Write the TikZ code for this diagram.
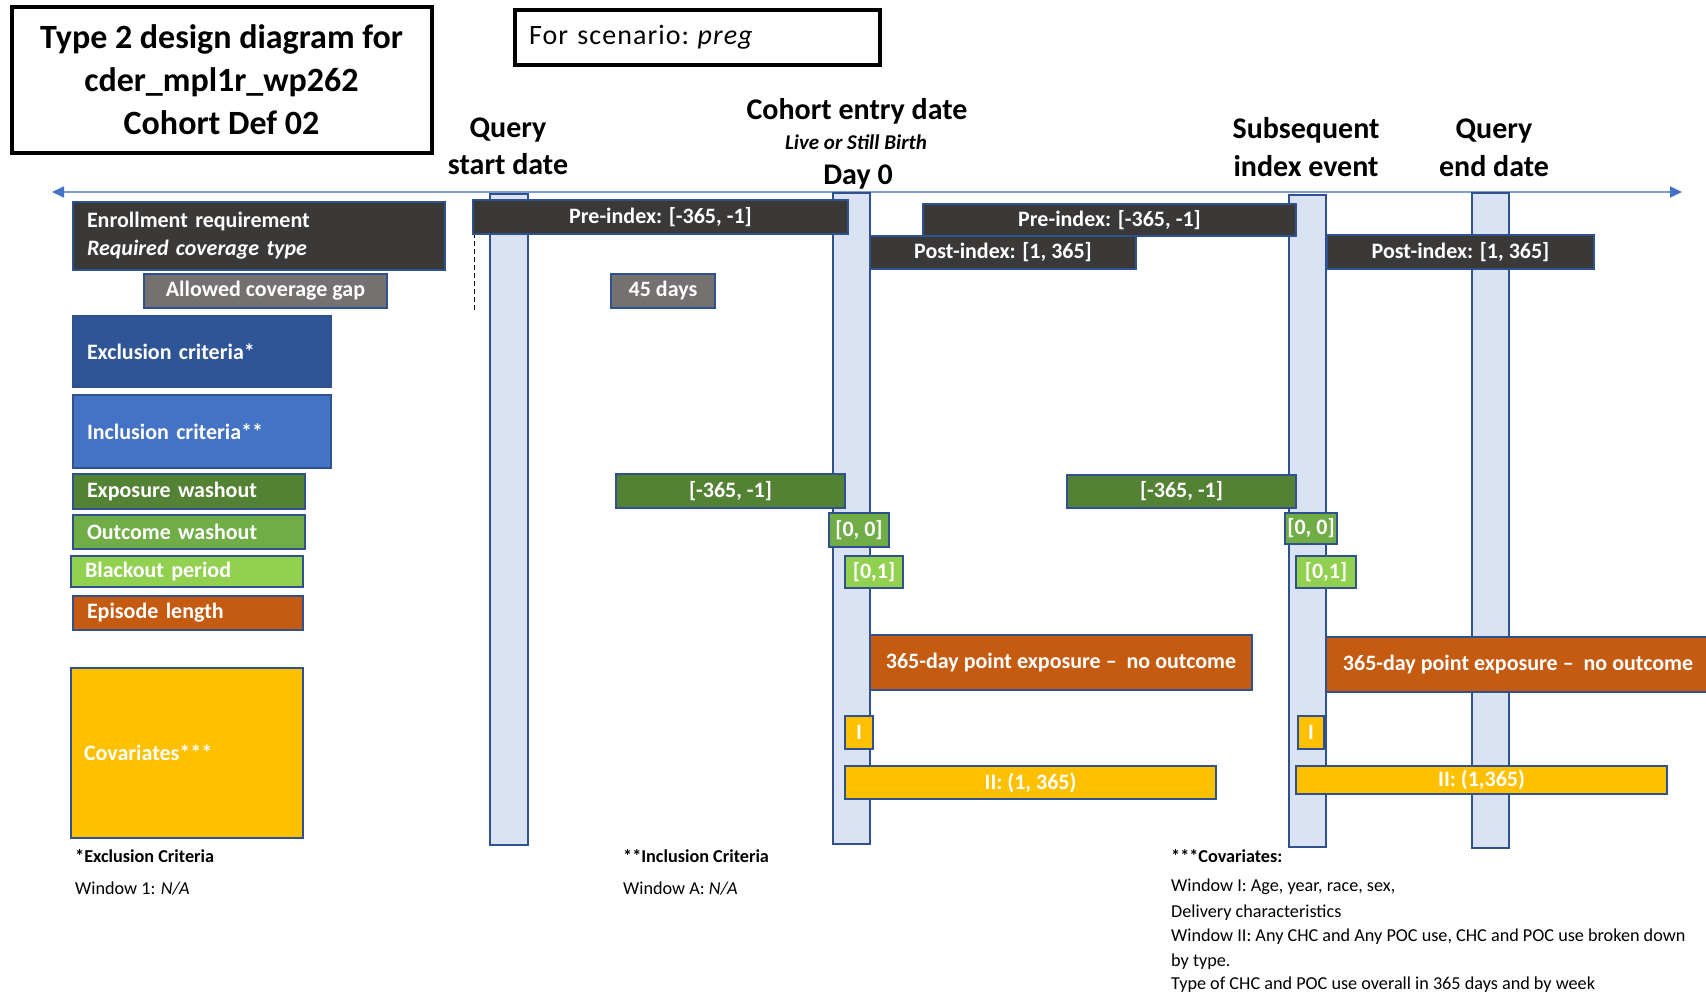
\documentclass[tikz,border=0pt]{standalone}
\usepackage{fontspec}
\setmainfont{Carlito}
\usetikzlibrary{arrows.meta}
\definecolor{dark}{HTML}{3B3838}
\definecolor{grayb}{HTML}{767171}
\definecolor{bord}{HTML}{2F528F}
\definecolor{barfill}{HTML}{DAE3F3}
\definecolor{excl}{HTML}{2F5597}
\definecolor{incl}{HTML}{4472C4}
\definecolor{expw}{HTML}{548235}
\definecolor{outw}{HTML}{70AD47}
\definecolor{blk}{HTML}{92D050}
\definecolor{epi}{HTML}{C55A11}
\definecolor{cov}{HTML}{FFC000}
\definecolor{axisc}{HTML}{4472C4}
\definecolor{axisl}{HTML}{7C9CD8}
\newcommand\szTitle{\fontsize{34}{43}\selectfont}
\newcommand\szHead{\fontsize{30}{37}\selectfont}
\newcommand\szSub{\fontsize{21}{25}\selectfont}
\newcommand\szBox{\fontsize{22}{28}\selectfont}
\newcommand\szNote{\fontsize{18.2}{22}\selectfont}
\newcommand\szScen{\fontsize{28}{32}\selectfont}
% rectangle node: style, name, x1, y1, x2, y2, text
\newcommand\rbx[7]{\node[#1,anchor=north west,minimum width={(#5)-(#3)},minimum height={(#6)-(#4)}] (#2) at (#3,#4) {#7};}
% left aligned text box
\newcommand\lbx[7]{\node[#1,anchor=north west,minimum width={(#5)-(#3)},minimum height={(#6)-(#4)},inner xsep=14pt,text width={(#5)-(#3)-28},align=left] (#2) at (#3,#4) {#7};}
\tikzset{
  bx/.style={draw=bord, line width=2pt, text=white, font=\szBox\bfseries, inner ysep=0pt, inner xsep=0pt},
  bar/.style={draw=bord, fill=barfill, line width=2pt, inner sep=0pt},
  head/.style={anchor=base, inner sep=0pt, font=\szHead\bfseries},
  note/.style={anchor=base west, inner sep=0pt, font=\szNote},
  axisline/.style={draw=axisl, line width=1.5pt, {Triangle[length=12pt,width=11pt,color=axisc]}-{Triangle[length=12pt,width=11pt,color=axisc]}},
}
\begin{document}
\begin{tikzpicture}[x=1pt,y=-1pt]
\useasboundingbox (0,0) rectangle (1706,993);
\clip (0,0) rectangle (1706,993);
\fill[white] (0,0) rectangle (1706,993);

% title and scenario
\node[draw=black, line width=4pt, minimum width=420, minimum height=146, align=center, font=\szTitle\bfseries, inner sep=0pt] (title) at (221.5,79.5)
  {Type 2 design diagram for\\cder\_mpl1r\_wp262\\Cohort Def 02};
\lbx{draw=black, line width=4pt, font=\szScen\addfontfeature{LetterSpace=3.8}, inner ysep=0pt}{scen}{513}{8}{878}{63}{For scenario:\hspace{0.3em}\textit{preg}}

% header labels
\node[head] (qs1) at (508,137.5) {Query};
\node[head] (qs2) at (508,174) {start date};
\node[head] (ce1) at (857,119) {Cohort entry date};
\node[head, font=\szSub\bfseries\itshape] (ce2) at (856,149) {Live or Still Birth};
\node[head] (ce3) at (858,184) {Day 0};
\node[head] (si1) at (1306,138) {Subsequent};
\node[head] (si2) at (1306,176) {index event};
\node[head] (qe1) at (1494,138) {Query};
\node[head] (qe2) at (1494,176) {end date};

% axis
\coordinate (axL) at (52,192);
\coordinate (axR) at (1682,192);
\draw[axisline] (axL) -- (axR);

% vertical bars
\rbx{bar}{b1}{488.5}{193}{527}{844}{}
\rbx{bar}{b2}{832}{192}{869}{843}{}
\rbx{bar}{b3}{1288}{194}{1325}{846}{}
\rbx{bar}{b4}{1471}{192}{1508}{847}{}

% dashed marker
\coordinate (dA) at (474,233);
\coordinate (dB) at (474,310);
\draw[black, line width=1pt, dash pattern=on 5pt off 3pt] (dA) -- (dB);

% legend
\lbx{bx, fill=dark}{enr}{72}{201}{444}{269}{Enrollment requirement\\\textit{Required coverage type}}
\rbx{bx, fill=grayb}{gap}{143}{273}{386}{307}{Allowed coverage gap}
\lbx{bx, fill=excl}{exc}{72}{315}{330}{386}{Exclusion criteria*}
\lbx{bx, fill=incl}{inc}{72}{394}{330}{467}{Inclusion criteria**}
\lbx{bx, fill=expw}{exw}{72}{473}{304}{508}{Exposure washout}
\lbx{bx, fill=outw}{ouw}{72}{514}{304}{548}{Outcome washout}
\lbx{bx, fill=blk}{blo}{70}{555}{302}{586}{Blackout period}
\lbx{bx, fill=epi}{epl}{72}{595}{302}{629}{Episode length}
\node[bx, fill=cov, anchor=north west, minimum width=232, minimum height=170, inner xsep=13pt, text width=206, align=left] (cvl) at (70,667) {Covariates***};

% timeline boxes
\rbx{bx, fill=dark}{preL}{472}{199}{847}{233}{Pre-index: [-365, -1]}
\rbx{bx, fill=dark}{preR}{922}{203}{1295}{235}{Pre-index: [-365, -1]}
\rbx{bx, fill=dark}{postL}{869}{235}{1135}{268}{Post-index: [1, 365]}
\rbx{bx, fill=dark}{postR}{1326}{234}{1593}{268}{Post-index: [1, 365]}
\rbx{bx, fill=grayb}{g45}{610}{273}{714}{307}{45 days}
\rbx{bx, fill=expw}{expL}{615}{473}{844}{507}{[-365, -1]}
\rbx{bx, fill=expw}{expR}{1066}{474}{1295}{507}{[-365, -1]}
\rbx{bx, fill=outw}{owL}{828}{512}{888}{546}{[0, 0]}
\rbx{bx, fill=outw}{owR}{1284}{512}{1336}{543}{[0, 0]}
\rbx{bx, fill=blk}{boL}{844}{555}{902}{587}{[0,1]}
\rbx{bx, fill=blk}{boR}{1295}{555}{1355}{587}{[0,1]}
\rbx{bx, fill=epi}{epL}{869}{634}{1251}{689}{365-day point exposure –~~no outcome}
\rbx{bx, fill=epi}{epR}{1325}{636}{1709}{691}{365-day point exposure –~~no outcome}
\rbx{bx, fill=cov}{cIL}{844}{715}{872}{748}{I}
\rbx{bx, fill=cov}{cIR}{1297}{715}{1323}{748}{I}
\rbx{bx, fill=cov}{cIIL}{844}{765}{1215}{798}{II: (1, 365)}
\rbx{bx, fill=cov}{cIIR}{1295}{765}{1666}{793}{II: (1,365)}

% footnotes
\node[note] (n1) at (75,862) {\textbf{*Exclusion Criteria}};
\node[note] (n2) at (75,894) {Window 1: \textit{N/A}};
\node[note] (n3) at (623,862) {\textbf{**Inclusion Criteria}};
\node[note] (n4) at (623,894) {Window A: \textit{N/A}};
\node[note] (n5) at (1171,862) {\textbf{***Covariates:}};
\node[note] (n6) at (1171,891) {Window I: Age, year, race, sex,};
\node[note] (n7) at (1171,917) {Delivery characteristics};
\node[note] (n8) at (1171,941) {Window II: Any CHC and Any POC use, CHC and POC use broken down};
\node[note] (n9) at (1171,966) {by type.};
\node[note] (n10) at (1171,989) {Type of CHC and POC use overall in 365 days and by week};
\end{tikzpicture}
\end{document}
